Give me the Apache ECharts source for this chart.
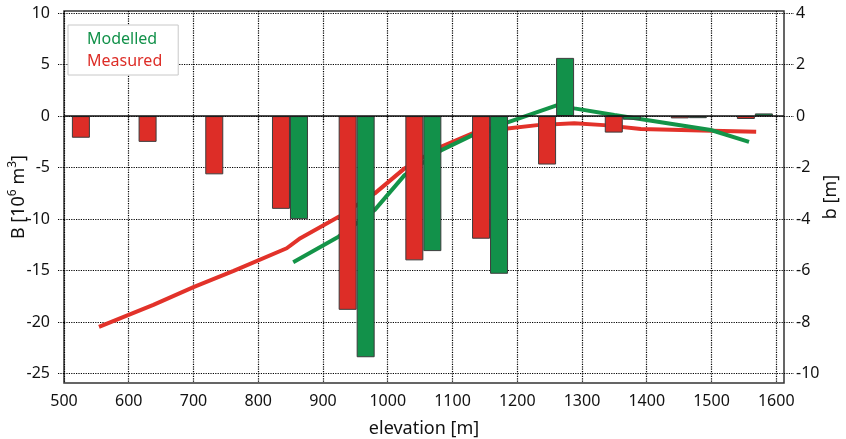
<!DOCTYPE html>
<html><head><meta charset="utf-8">
<script src="https://cdn.jsdelivr.net/npm/echarts@6/dist/echarts.min.js"></script>
<style>html,body{margin:0;padding:0;background:#fff}#c{width:846px;height:439px}</style>
</head><body><div id="c"></div>
<script>
// Bin centres (elevation, m)
const groupElevation = [540, 643, 746, 849, 952, 1055, 1158, 1260, 1363, 1465, 1567];
// Mass balance per bin B [10^6 m^3]
const measuredB = [-2.1, -2.5, -5.65, -9.0, -18.8, -14.0, -11.9, -4.7, -1.6, -0.22, -0.28];
const modelledB = [null, null, null, -10.0, -23.4, -13.1, -15.3, 5.65, -0.35, -0.2, 0.26];
// Specific balance profiles b [m]
const measuredLineElev = [554, 638, 700, 762, 844, 865, 925, 980, 1026, 1082, 1131, 1185, 1231, 1288, 1334, 1391, 1484, 1569];
const measuredLineB    = [-8.18, -7.33, -6.64, -6.01, -5.13, -4.74, -3.9, -3.0, -2.03, -1.19, -0.67, -0.48, -0.35, -0.28, -0.35, -0.5, -0.56, -0.61];
const modelledLineElev = [854, 924, 980, 1026, 1083, 1131, 1185, 1262, 1288, 1350, 1499, 1558];
const modelledLineB    = [-5.67, -4.68, -3.64, -2.29, -1.32, -0.74, -0.24, 0.43, 0.30, 0.04, -0.54, -1.0];
// Tick labels
const xTicks = [500, 600, 700, 800, 900, 1000, 1100, 1200, 1300, 1400, 1500, 1600];
const leftTicks = [-25, -20, -15, -10, -5, 0, 5, 10];
const rightTicks = [-10, -8, -6, -4, -2, 0, 2, 4];

const RED = '#dd2d27', GREEN = '#12914a', RED_L = '#e2322a', GREEN_L = '#139448';
const FONT = 'Noto Sans';
const pair = (xs, ys) => xs.map((x, i) => [x, ys[i]]).filter(p => p[1] !== null);
const dotted = {color: '#000', width: 1.2, type: [1.2, 1.2]};
const plain = v => String(v);

const chart = echarts.init(document.getElementById('c'), null, {renderer: 'canvas'});
chart.setOption({
  animation: false,
  backgroundColor: '#fff',
  textStyle: {fontFamily: FONT},
  grid: {left: 64, right: 62, top: 11, bottom: 56, show: true, borderColor: '#333', borderWidth: 1.5,
         backgroundColor: 'transparent', containLabel: false, outerBoundsMode: 'none'},
  legend: {
    left: 68, top: 25, orient: 'vertical', icon: 'none', itemWidth: 0, itemHeight: 10, itemGap: 6,
    backgroundColor: '#fff', borderColor: '#c8c8c8', borderWidth: 1, padding: [6, 16, 6, 14],
    textStyle: {fontFamily: FONT, fontSize: 16},
    data: [{name: 'Modelled', textStyle: {color: GREEN}}, {name: 'Measured', textStyle: {color: RED}}]
  },
  xAxis: {
    type: 'value', min: 500, max: 1612,
    name: 'elevation [m]', nameLocation: 'middle', nameGap: 37,
    nameTextStyle: {fontFamily: FONT, fontSize: 18, color: '#111'},
    axisLine: {show: false},
    axisTick: {show: true, inside: false, length: 6, lineStyle: dotted, customValues: xTicks},
    axisLabel: {color: '#111', fontSize: 16, fontFamily: FONT, margin: 10, customValues: xTicks, formatter: plain},
    splitLine: {show: true, lineStyle: dotted}
  },
  yAxis: [{
    type: 'value', min: -25.9, max: 10.2, position: 'left',
    name: 'B [10{s|6} m{s|3}]', nameLocation: 'middle', nameRotate: 90, nameGap: 33, nameMoveOverlap: false,
    nameTextStyle: {fontFamily: FONT, fontSize: 18, color: '#111', lineHeight: 24,
      rich: {s: {fontFamily: FONT, fontSize: 12, color: '#111', lineHeight: 12, verticalAlign: 'top'}}},
    axisLine: {show: false},
    axisTick: {show: true, length: 6, lineStyle: dotted, customValues: leftTicks},
    axisLabel: {color: '#111', fontSize: 16, fontFamily: FONT, margin: 14, customValues: leftTicks, formatter: plain},
    splitLine: {show: true, lineStyle: dotted}
  }, {
    type: 'value', min: -10.36, max: 4.08, position: 'right',
    name: 'b [m]', nameLocation: 'middle', nameRotate: 90, nameGap: 38, nameMoveOverlap: false,
    nameTextStyle: {fontFamily: FONT, fontSize: 18, color: '#111'},
    axisLine: {show: false},
    axisTick: {show: true, length: 10, lineStyle: dotted, customValues: rightTicks},
    axisLabel: {color: '#111', fontSize: 16, fontFamily: FONT, margin: 12, customValues: rightTicks, formatter: plain},
    splitLine: {show: false}
  }],
  series: [
    {name: 'Measured', type: 'line', yAxisIndex: 1, z: 1, data: pair(measuredLineElev, measuredLineB),
     showSymbol: false, symbol: 'none', lineStyle: {color: RED_L, width: 4}, itemStyle: {color: RED}},
    {name: 'Modelled', type: 'line', yAxisIndex: 1, z: 1, data: pair(modelledLineElev, modelledLineB),
     showSymbol: false, symbol: 'none', lineStyle: {color: GREEN_L, width: 4}, itemStyle: {color: GREEN}},
    {name: 'Measured', type: 'bar', yAxisIndex: 0, z: 3, barWidth: 18, barGap: '0%',
     data: pair(groupElevation, measuredB),
     itemStyle: {color: RED, borderColor: '#3c3c3c', borderWidth: 1},
     markLine: {silent: true, symbol: 'none', label: {show: false}, lineStyle: {color: '#111', width: 1.5, type: 'solid'},
       data: [{yAxis: 0}], z: 5}},
    {name: 'Modelled', type: 'bar', yAxisIndex: 0, z: 3, barWidth: 18, barGap: '0%',
     data: pair(groupElevation, modelledB),
     itemStyle: {color: GREEN, borderColor: '#3c3c3c', borderWidth: 1}}
  ]
});
</script>
</body></html>
